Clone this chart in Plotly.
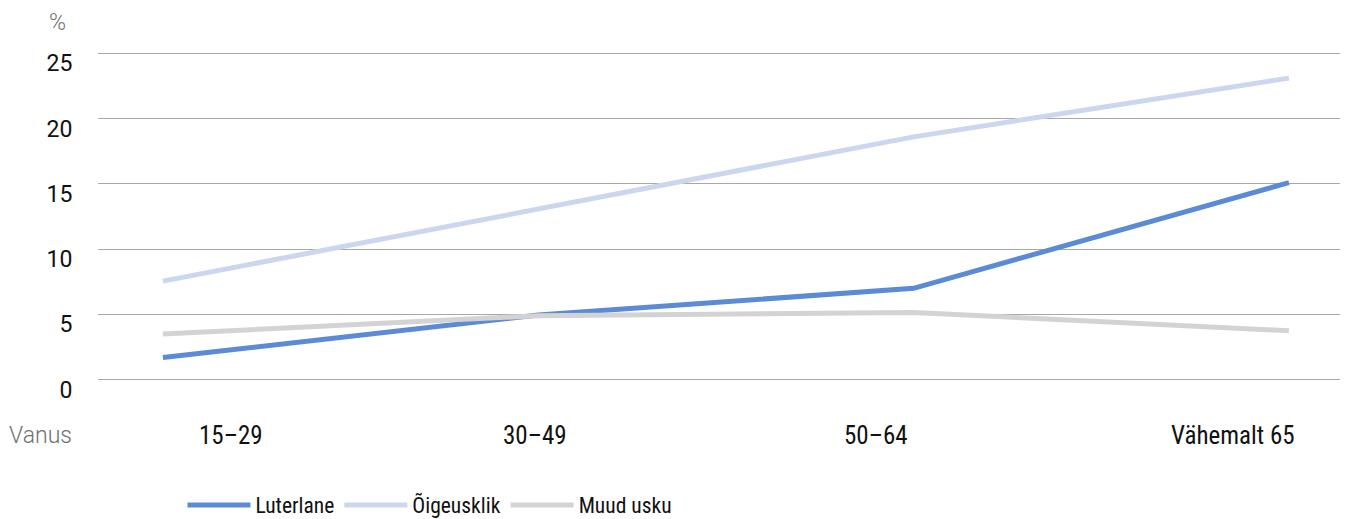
import plotly.graph_objects as go

categories = ["15–29", "30–49", "50–64", "Vähemalt 65"]
label_pos = [0.18, 0.99, 1.9, 2.85]
luterlane = [1.7, 4.95, 7.0, 15.1]
oigeusklik = [7.55, 13.1, 18.6, 23.1]
muud_usku = [3.5, 4.9, 5.15, 3.75]
y_ticks = [0, 5, 10, 15, 20, 25]

xs = list(range(len(categories)))
COND = "Roboto Condensed, Roboto"

fig = go.Figure()
series = [
    ("Luterlane", luterlane, "#5b8bd7"),
    ("Õigeusklik", oigeusklik, "#cad7ee"),
    ("Muud usku", muud_usku, "#d2d3d2"),
]
for name, vals, col in series:
    fig.add_trace(go.Scatter(x=xs, y=vals, name=name, mode="lines",
                             line=dict(color=col, width=5)))

for lp, cat in zip(label_pos, categories):
    fig.add_annotation(x=lp, y=0, xref="x", yref="y", yshift=-56, yanchor="middle",
                       text=cat, showarrow=False,
                       font=dict(family=COND, size=25, color="#111"))

fig.add_annotation(x=-0.033, y=25, xref="paper", yref="y", yshift=31,
                   text="%", showarrow=False, xanchor="center", yanchor="middle",
                   font=dict(family="Roboto", size=23, color="#707070", weight=300))
fig.add_annotation(x=-0.0195, y=0, xref="paper", yref="y", yshift=-56,
                   text="Vanus", showarrow=False, xanchor="right", yanchor="middle",
                   font=dict(family="Roboto", size=23, color="#707070", weight=300))

fig.update_layout(
    width=1354, height=519,
    margin=dict(l=98, r=14, t=52, b=138, autoexpand=False),
    paper_bgcolor="white", plot_bgcolor="white",
    font=dict(family="Roboto", size=20, color="#111"),
    showlegend=True,
    legend=dict(orientation="h", x=0.068, xanchor="left", y=-0.377, yanchor="middle",
                itemwidth=63, font=dict(family=COND, size=21.5, color="#111"),
                itemclick=False),
    xaxis=dict(range=[-0.173, 3.136], showgrid=False, zeroline=False,
               showticklabels=False, tickvals=[]),
    yaxis=dict(range=[-0.1, 25.1], tickvals=y_ticks, showgrid=True, gridcolor="#a8a8a8",
               gridwidth=1, zeroline=False,
               ticks="outside", ticklen=20, tickcolor="rgba(0,0,0,0)",
               ticklabelshift=10, tickfont=dict(family="Roboto", size=23, color="#111")),
)

fig.write_html("out.html", config={"displayModeBar": False},
               post_script="document.body.style.margin='0';")
